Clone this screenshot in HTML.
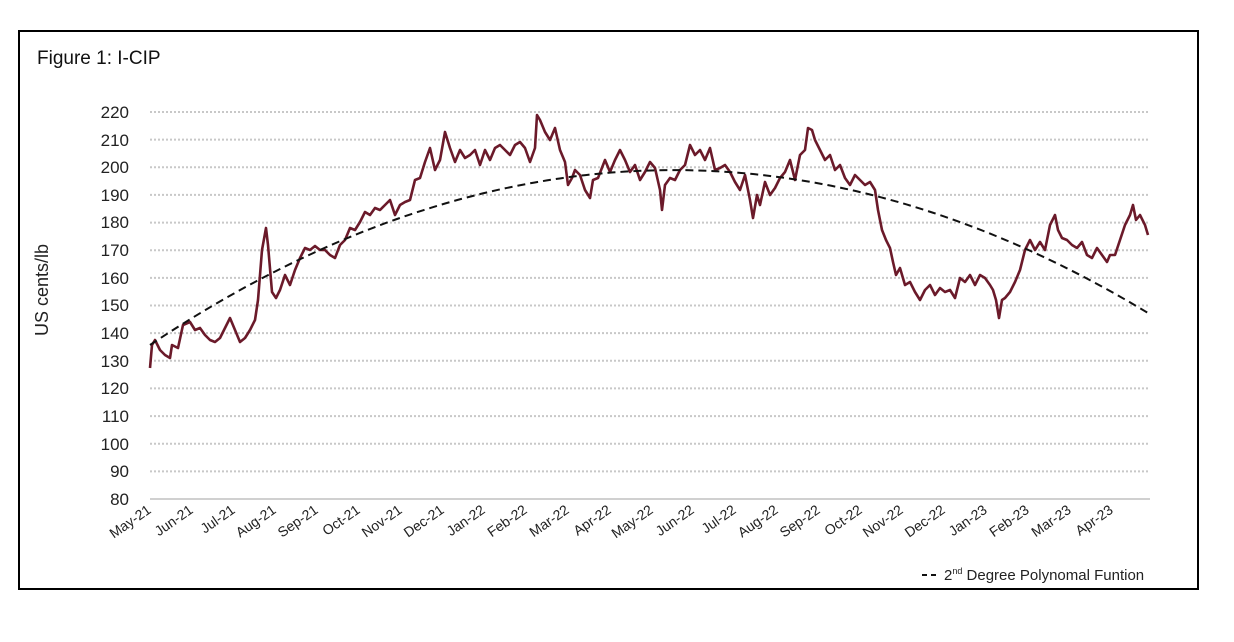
<!DOCTYPE html>
<html><head><meta charset="utf-8"><style>
body{margin:0;background:#fff;}
svg{display:block;font-family:"Liberation Sans",sans-serif;}
</style></head><body>
<svg width="1234" height="642" viewBox="0 0 1234 642" xmlns="http://www.w3.org/2000/svg">
<rect x="19" y="31" width="1179" height="558" fill="#fff" stroke="#000" stroke-width="2"/>
<text x="37" y="64" font-size="19" fill="#111">Figure 1: I-CIP</text>
<g stroke="#c8c8c8" stroke-width="2" stroke-dasharray="2,2">
<line x1="150" x2="1150" y1="112" y2="112"/><line x1="150" x2="1150" y1="139.6" y2="139.6"/><line x1="150" x2="1150" y1="167.3" y2="167.3"/><line x1="150" x2="1150" y1="194.9" y2="194.9"/><line x1="150" x2="1150" y1="222.6" y2="222.6"/><line x1="150" x2="1150" y1="250.2" y2="250.2"/><line x1="150" x2="1150" y1="277.9" y2="277.9"/><line x1="150" x2="1150" y1="305.5" y2="305.5"/><line x1="150" x2="1150" y1="333.1" y2="333.1"/><line x1="150" x2="1150" y1="360.8" y2="360.8"/><line x1="150" x2="1150" y1="388.4" y2="388.4"/><line x1="150" x2="1150" y1="416.1" y2="416.1"/><line x1="150" x2="1150" y1="443.7" y2="443.7"/><line x1="150" x2="1150" y1="471.4" y2="471.4"/>
</g>
<line x1="150" x2="1150" y1="499" y2="499" stroke="#d0d0d0" stroke-width="2"/>
<g font-size="17" fill="#222" text-anchor="end">
<text x="129" y="118">220</text><text x="129" y="146">210</text><text x="129" y="173">200</text><text x="129" y="201">190</text><text x="129" y="228">180</text><text x="129" y="256">170</text><text x="129" y="284">160</text><text x="129" y="311">150</text><text x="129" y="339">140</text><text x="129" y="367">130</text><text x="129" y="394">120</text><text x="129" y="422">110</text><text x="129" y="450">100</text><text x="129" y="477">90</text><text x="129" y="505">80</text>
</g>
<text transform="translate(48,290) rotate(-90)" font-size="18" fill="#222" text-anchor="middle">US cents/lb</text>
<g font-size="14" fill="#222" text-anchor="end">
<text transform="translate(152,512) rotate(-35)">May-21</text>
<text transform="translate(194,512) rotate(-35)">Jun-21</text>
<text transform="translate(236,512) rotate(-35)">Jul-21</text>
<text transform="translate(277,512) rotate(-35)">Aug-21</text>
<text transform="translate(319,512) rotate(-35)">Sep-21</text>
<text transform="translate(361,512) rotate(-35)">Oct-21</text>
<text transform="translate(403,512) rotate(-35)">Nov-21</text>
<text transform="translate(445,512) rotate(-35)">Dec-21</text>
<text transform="translate(486,512) rotate(-35)">Jan-22</text>
<text transform="translate(528,512) rotate(-35)">Feb-22</text>
<text transform="translate(570,512) rotate(-35)">Mar-22</text>
<text transform="translate(612,512) rotate(-35)">Apr-22</text>
<text transform="translate(654,512) rotate(-35)">May-22</text>
<text transform="translate(695,512) rotate(-35)">Jun-22</text>
<text transform="translate(737,512) rotate(-35)">Jul-22</text>
<text transform="translate(779,512) rotate(-35)">Aug-22</text>
<text transform="translate(821,512) rotate(-35)">Sep-22</text>
<text transform="translate(863,512) rotate(-35)">Oct-22</text>
<text transform="translate(904,512) rotate(-35)">Nov-22</text>
<text transform="translate(946,512) rotate(-35)">Dec-22</text>
<text transform="translate(988,512) rotate(-35)">Jan-23</text>
<text transform="translate(1030,512) rotate(-35)">Feb-23</text>
<text transform="translate(1072,512) rotate(-35)">Mar-23</text>
<text transform="translate(1114,512) rotate(-35)">Apr-23</text>
</g>
<polyline fill="none" stroke="#6b1a2a" stroke-width="2.6" stroke-linejoin="round" points="150,368 152,345 155,340 160,350 165,355 170,358 172,345 178,348 183,325 190,322 195,330 200,328 205,335 210,340 215,342 220,338 225,328 230,318 235,330 240,342 245,338 250,330 255,320 258,300 262,250 266,228 268,245 272,292 276,298 280,290 285,275 290,285 295,270 300,258 305,248 310,250 315,246 320,250 325,250 330,255 335,258 340,245 345,240 350,228 355,230 360,222 365,212 370,215 375,208 380,210 385,205 390,200 395,215 400,205 405,202 410,200 415,180 420,178 425,162 430,148 435,170 440,160 445,132 450,148 455,162 460,150 465,158 470,155 475,150 480,165 485,150 490,160 495,148 500,145 505,150 510,155 515,145 520,142 525,148 530,162 535,148 537,115 540,120 545,132 550,140 555,128 560,150 565,162 568,185 572,178 575,170 580,175 585,190 590,198 593,180 598,178 605,160 610,172 615,160 620,150 625,160 630,172 635,165 640,180 645,172 650,162 655,168 660,190 662,210 665,185 670,178 675,180 680,170 685,165 690,145 695,155 700,150 705,160 710,148 715,170 720,168 725,165 730,172 735,182 740,190 745,175 750,200 753,218 757,195 760,205 765,182 770,195 775,188 780,178 785,172 790,160 795,180 800,155 805,150 808,128 812,130 815,140 820,150 825,160 830,155 835,170 840,165 845,178 850,185 855,175 860,180 865,185 870,182 875,190 878,210 882,230 886,240 890,248 893,262 896,275 900,268 905,285 910,282 915,292 920,300 925,290 930,285 935,295 940,288 945,292 950,290 955,298 960,278 965,282 970,275 975,285 980,275 985,278 990,285 993,290 996,300 999,318 1002,300 1005,298 1010,292 1015,282 1020,270 1025,250 1030,240 1035,250 1040,242 1045,250 1050,225 1055,215 1058,230 1062,238 1067,240 1072,245 1077,248 1082,242 1087,255 1092,258 1097,248 1102,255 1107,262 1110,255 1115,255 1120,240 1125,225 1130,215 1133,205 1136,220 1140,215 1145,225 1148,235"/>
<path d="M150,345 Q649,12 1148,313" fill="none" stroke="#111" stroke-width="2" stroke-dasharray="8,5"/>
<line x1="922" x2="938" y1="575" y2="575" stroke="#111" stroke-width="2" stroke-dasharray="5,4"/>
<text x="944" y="580" font-size="15" fill="#222">2<tspan font-size="9" dy="-6">nd</tspan><tspan dy="6"> Degree Polynomal Funtion</tspan></text>
</svg>
</body></html>
